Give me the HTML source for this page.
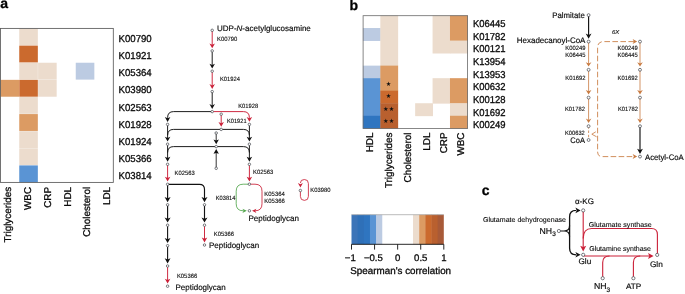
<!DOCTYPE html>
<html lang="en"><head><meta charset="utf-8"><title>Figure</title>
<style>html,body{margin:0;padding:0;background:#fff;overflow:hidden}svg{display:block}text{white-space:pre;stroke:#0a0a0a;stroke-width:.3px}text.s{stroke-width:.1px}text.m{stroke-width:.16px}</style></head>
<body>
<svg width="685" height="294" viewBox="0 0 685 294" font-family='"Liberation Sans", "DejaVu Sans", sans-serif' fill="#0a0a0a" text-rendering="geometricPrecision">
<rect width="685" height="294" fill="#fff"/>
<text x="0.20" y="7.50" font-size="14" font-weight="bold" fill="#000">a</text>
<text x="349.60" y="9.90" font-size="14" font-weight="bold" fill="#000">b</text>
<text x="481.70" y="195.10" font-size="14" font-weight="bold" fill="#000">c</text>
<rect x="0.42" y="79.85" width="18.59" height="16.87" fill="#dc9b63"/>
<rect x="19.25" y="28.52" width="18.59" height="16.87" fill="#ecdccd"/>
<rect x="19.25" y="45.63" width="18.59" height="16.87" fill="#cb6a2e"/>
<rect x="19.25" y="62.74" width="18.59" height="16.87" fill="#ecdccd"/>
<rect x="19.25" y="79.85" width="18.59" height="16.87" fill="#cb6a2e"/>
<rect x="19.25" y="96.96" width="18.59" height="16.87" fill="#ecdccd"/>
<rect x="19.25" y="114.08" width="18.59" height="16.87" fill="#dc9b63"/>
<rect x="19.25" y="131.19" width="18.59" height="16.87" fill="#ecdccd"/>
<rect x="19.25" y="148.30" width="18.59" height="16.87" fill="#ecdccd"/>
<rect x="19.25" y="165.41" width="18.59" height="16.87" fill="#5a94d4"/>
<rect x="38.09" y="62.74" width="18.59" height="16.87" fill="#ecdccd"/>
<rect x="38.09" y="79.85" width="18.59" height="16.87" fill="#ecdccd"/>
<rect x="75.75" y="62.74" width="18.59" height="16.87" fill="#bccbe2"/>
<rect x="0.55" y="28.4" width="112.75" height="154.00" fill="none" stroke="#5a5a5a" stroke-width="0.85"/>
<text transform="translate(118.50,41.80) scale(0.9629,1)" font-size="10">K00790</text>
<text transform="translate(118.50,59.00) scale(0.9629,1)" font-size="10">K01921</text>
<text transform="translate(118.50,76.20) scale(0.9629,1)" font-size="10">K05364</text>
<text transform="translate(118.50,93.40) scale(0.9629,1)" font-size="10">K03980</text>
<text transform="translate(118.50,110.60) scale(0.9629,1)" font-size="10">K02563</text>
<text transform="translate(118.50,127.80) scale(0.9629,1)" font-size="10">K01928</text>
<text transform="translate(118.50,145.00) scale(0.9629,1)" font-size="10">K01924</text>
<text transform="translate(118.50,162.20) scale(0.9629,1)" font-size="10">K05366</text>
<text transform="translate(118.50,179.40) scale(0.9629,1)" font-size="10">K03814</text>
<text transform="translate(11.20,186.90) rotate(-90)" font-size="9.9" text-anchor="end">Triglycerides</text>
<text transform="translate(30.70,186.90) rotate(-90)" font-size="9.9" text-anchor="end">WBC</text>
<text transform="translate(50.60,186.90) rotate(-90)" font-size="9.9" text-anchor="end">CRP</text>
<text transform="translate(70.50,186.90) rotate(-90)" font-size="9.9" text-anchor="end">HDL</text>
<text transform="translate(90.40,186.90) rotate(-90)" font-size="9.9" text-anchor="end">Cholesterol</text>
<text transform="translate(110.40,186.90) rotate(-90)" font-size="9.9" text-anchor="end">LDL</text>
<rect x="362.90" y="28.03" width="17.82" height="12.93" fill="#bccbe2"/>
<rect x="362.90" y="65.63" width="17.82" height="12.93" fill="#bccbe2"/>
<rect x="362.90" y="78.17" width="17.82" height="38.00" fill="#5a94d4"/>
<rect x="362.90" y="115.77" width="17.82" height="12.93" fill="#2f75c0"/>
<rect x="380.32" y="15.50" width="17.82" height="50.53" fill="#ecdccd"/>
<rect x="380.32" y="65.63" width="17.82" height="25.47" fill="#dc9b63"/>
<rect x="380.32" y="90.70" width="17.82" height="12.93" fill="#cb6a2e"/>
<rect x="380.32" y="103.23" width="17.82" height="25.47" fill="#b9602f"/>
<rect x="415.15" y="103.23" width="17.82" height="12.93" fill="#ecdccd"/>
<rect x="432.57" y="15.50" width="17.82" height="38.00" fill="#ecdccd"/>
<rect x="432.57" y="78.17" width="17.82" height="25.47" fill="#ecdccd"/>
<rect x="449.98" y="15.50" width="17.82" height="25.47" fill="#dc9b63"/>
<rect x="449.98" y="40.57" width="17.82" height="12.93" fill="#ecdccd"/>
<rect x="449.98" y="78.17" width="17.82" height="25.47" fill="#dc9b63"/>
<rect x="449.98" y="103.23" width="17.82" height="12.93" fill="#ecdccd"/>
<rect x="449.98" y="115.77" width="17.82" height="12.93" fill="#dc9b63"/>
<rect x="363.1" y="15.7" width="104.50" height="112.80" fill="none" stroke="#6a6a6a" stroke-width="0.8"/>
<text transform="translate(472.90,27.00) scale(0.9455,1)" font-size="10">K06445</text>
<text transform="translate(472.90,39.66) scale(0.9455,1)" font-size="10">K01782</text>
<text transform="translate(472.90,52.32) scale(0.9455,1)" font-size="10">K00121</text>
<text transform="translate(472.90,64.98) scale(0.9455,1)" font-size="10">K13954</text>
<text transform="translate(472.90,77.64) scale(0.9455,1)" font-size="10">K13953</text>
<text transform="translate(472.90,90.30) scale(0.9455,1)" font-size="10">K00632</text>
<text transform="translate(472.90,102.96) scale(0.9455,1)" font-size="10">K00128</text>
<text transform="translate(472.90,115.62) scale(0.9455,1)" font-size="10">K01692</text>
<text transform="translate(472.90,128.28) scale(0.9455,1)" font-size="10">K00249</text>
<text transform="translate(373.10,132.50) rotate(-90)" font-size="9.9" text-anchor="end">HDL</text>
<text transform="translate(391.50,132.50) rotate(-90)" font-size="9.9" text-anchor="end">Triglycerides</text>
<text transform="translate(411.00,132.50) rotate(-90)" font-size="9.9" text-anchor="end">Cholesterol</text>
<text transform="translate(430.20,132.50) rotate(-90)" font-size="9.9" text-anchor="end">LDL</text>
<text transform="translate(447.10,132.50) rotate(-90)" font-size="9.9" text-anchor="end">CRP</text>
<text transform="translate(463.80,132.50) rotate(-90)" font-size="9.9" text-anchor="end">WBC</text>
<text x="388.43" y="85.63" font-size="6.2" text-anchor="middle" style="stroke:none" font-family='"DejaVu Sans", sans-serif' fill="#111">★</text>
<text x="388.43" y="98.17" font-size="6.2" text-anchor="middle" style="stroke:none" font-family='"DejaVu Sans", sans-serif' fill="#111">★</text>
<text x="385.73" y="110.70" font-size="6.2" text-anchor="middle" style="stroke:none" font-family='"DejaVu Sans", sans-serif' fill="#111">★</text>
<text x="391.62" y="110.70" font-size="6.2" text-anchor="middle" style="stroke:none" font-family='"DejaVu Sans", sans-serif' fill="#111">★</text>
<text x="385.73" y="123.23" font-size="6.2" text-anchor="middle" style="stroke:none" font-family='"DejaVu Sans", sans-serif' fill="#111">★</text>
<text x="391.62" y="123.23" font-size="6.2" text-anchor="middle" style="stroke:none" font-family='"DejaVu Sans", sans-serif' fill="#111">★</text>
<rect x="351.50" y="214.7" width="6.55" height="29.60" fill="#3b74b8"/>
<rect x="357.65" y="214.7" width="6.55" height="29.60" fill="#2f70b8"/>
<rect x="363.81" y="214.7" width="6.55" height="29.60" fill="#2f75c0"/>
<rect x="369.96" y="214.7" width="6.55" height="29.60" fill="#5a94d4"/>
<rect x="376.11" y="214.7" width="6.15" height="29.60" fill="#bccbe2"/>
<rect x="413.03" y="214.7" width="6.55" height="29.60" fill="#ecdccd"/>
<rect x="419.19" y="214.7" width="6.55" height="29.60" fill="#dc9b63"/>
<rect x="425.34" y="214.7" width="6.55" height="29.60" fill="#cb6a2e"/>
<rect x="431.49" y="214.7" width="6.55" height="29.60" fill="#b9602f"/>
<rect x="437.65" y="214.7" width="6.15" height="29.60" fill="#a85a38"/>
<path d="M351.5,214.7H443.8" stroke="#aaa" stroke-width="0.8" fill="none"/>
<path d="M351.5,244.3H443.8M351.50,244.3V249.6M374.57,244.3V249.6M397.65,244.3V249.6M420.73,244.3V249.6M443.80,244.3V249.6" stroke="#111" stroke-width="0.9" fill="none"/>
<text x="350.30" y="261.40" font-size="9.6" text-anchor="middle">−1</text>
<text x="373.38" y="261.40" font-size="9.6" text-anchor="middle">−0.5</text>
<text x="397.65" y="261.40" font-size="9.6" text-anchor="middle">0</text>
<text x="420.73" y="261.40" font-size="9.6" text-anchor="middle">0.5</text>
<text x="443.80" y="261.40" font-size="9.6" text-anchor="middle">1</text>
<text transform="translate(350.30,274.10) scale(1.0033,1)" font-size="9.8">Spearman's correlation</text>
<text x="217.00" y="31.20" font-size="8" class="m">UDP-<tspan font-style="italic">N</tspan>-acetylglucosamine</text>
<path d="M212.20,30.30V45.80" fill="none" stroke="#cb2038" stroke-width="0.95"/>
<polygon points="212.20,48.30 209.45,43.40 212.20,44.70 214.95,43.40" fill="#cb2038"/>
<path d="M212.20,50.90V66.10" fill="none" stroke="#111111" stroke-width="0.95"/>
<polygon points="212.20,68.60 209.45,63.70 212.20,65.00 214.95,63.70" fill="#111111"/>
<path d="M212.20,71.20V86.50" fill="none" stroke="#cb2038" stroke-width="0.95"/>
<polygon points="212.20,89.00 209.45,84.10 212.20,85.40 214.95,84.10" fill="#cb2038"/>
<path d="M212.20,91.60V106.50" fill="none" stroke="#111111" stroke-width="0.95"/>
<polygon points="212.20,109.00 209.45,104.10 212.20,105.40 214.95,104.10" fill="#111111"/>
<text transform="translate(217.00,40.60) scale(0.9543,1)" font-size="6.2" class="s">K00790</text>
<text transform="translate(220.00,81.00) scale(0.9356,1)" font-size="6.2" class="s">K01924</text>
<text transform="translate(238.20,108.00) scale(0.9356,1)" font-size="6.2" class="s">K01928</text>
<text transform="translate(227.00,122.90) scale(0.9169,1)" font-size="6.2" class="s">K01921</text>
<path d="M212.2,111.6H173.6Q167.6,111.6 167.6,117.6V118.9" fill="none" stroke="#111111" stroke-width="0.95"/>
<polygon points="167.60,121.90 164.85,117.00 167.60,118.30 170.35,117.00" fill="#111111"/>
<path d="M212.2,111.6H243.4Q249.4,111.6 249.4,117.6V118.9" fill="none" stroke="#cb2038" stroke-width="0.95"/>
<polygon points="249.40,121.80 246.65,116.90 249.40,118.20 252.15,116.90" fill="#cb2038"/>
<path d="M221.20,114.20V124.30" fill="none" stroke="#cb2038" stroke-width="0.95"/>
<polygon points="221.20,126.80 218.45,121.90 221.20,123.20 223.95,121.90" fill="#cb2038"/>
<path d="M221.2,129.4H173.6Q167.6,129.4 167.6,135.4" fill="none" stroke="#111111" stroke-width="0.95"/>
<path d="M221.2,129.4H243.4Q249.4,129.4 249.4,135.4" fill="none" stroke="#111111" stroke-width="0.95"/>
<path d="M167.60,124.40V139.10" fill="none" stroke="#111111" stroke-width="0.95"/>
<polygon points="167.60,141.60 164.85,136.70 167.60,138.00 170.35,136.70" fill="#111111"/>
<path d="M249.40,124.40V139.10" fill="none" stroke="#111111" stroke-width="0.95"/>
<polygon points="249.40,141.60 246.65,136.70 249.40,138.00 252.15,136.70" fill="#111111"/>
<path d="M216.20,133.00V141.70" fill="none" stroke="#111111" stroke-width="0.85"/>
<polygon points="216.20,144.20 213.50,139.60 216.20,140.40 218.90,139.60" fill="#111111"/>
<path d="M216.2,146.6H173.6Q167.6,146.6 167.6,152.6" fill="none" stroke="#111111" stroke-width="0.95"/>
<path d="M216.2,146.6H243.4Q249.4,146.6 249.4,152.6" fill="none" stroke="#111111" stroke-width="0.95"/>
<path d="M167.60,144.20V159.20" fill="none" stroke="#111111" stroke-width="0.95"/>
<polygon points="167.60,161.70 164.85,156.80 167.60,158.10 170.35,156.80" fill="#111111"/>
<path d="M249.40,144.20V159.20" fill="none" stroke="#111111" stroke-width="0.95"/>
<polygon points="249.40,161.70 246.65,156.80 249.40,158.10 252.15,156.80" fill="#111111"/>
<path d="M216.20,168.30V151.60" fill="none" stroke="#111111" stroke-width="0.85"/>
<polygon points="216.20,149.10 218.90,153.70 216.20,152.90 213.50,153.70" fill="#111111"/>
<path d="M167.60,164.30V179.10" fill="none" stroke="#cb2038" stroke-width="0.95"/>
<polygon points="167.60,181.60 164.85,176.70 167.60,178.00 170.35,176.70" fill="#cb2038"/>
<path d="M249.40,164.30V179.10" fill="none" stroke="#cb2038" stroke-width="0.95"/>
<polygon points="249.40,181.60 246.65,176.70 249.40,178.00 252.15,176.70" fill="#cb2038"/>
<text transform="translate(174.60,175.30) scale(0.9450,1)" font-size="6.2" class="s">K02563</text>
<text transform="translate(253.00,173.50) scale(0.9543,1)" font-size="6.2" class="s">K02563</text>
<path d="M167.6,184.3H199.5Q204.5,184.3 204.5,189.3V199.3" fill="none" stroke="#111111" stroke-width="1.15"/>
<polygon points="204.50,202.20 201.50,197.00 204.50,198.30 207.50,197.00" fill="#111111"/>
<path d="M167.60,184.30V199.70" fill="none" stroke="#111111" stroke-width="1.15"/>
<polygon points="167.60,202.20 164.60,197.00 167.60,198.30 170.60,197.00" fill="#111111"/>
<path d="M167.60,204.80V220.10" fill="none" stroke="#111111" stroke-width="1.15"/>
<polygon points="167.60,222.60 164.60,217.40 167.60,218.70 170.60,217.40" fill="#111111"/>
<path d="M204.50,204.80V220.10" fill="none" stroke="#111111" stroke-width="1.15"/>
<polygon points="204.50,222.60 201.50,217.40 204.50,218.70 207.50,217.40" fill="#111111"/>
<path d="M167.60,225.20V240.60" fill="none" stroke="#111111" stroke-width="1.1"/>
<polygon points="167.60,243.10 164.70,237.90 167.60,239.20 170.50,237.90" fill="#111111"/>
<path d="M167.60,245.70V260.90" fill="none" stroke="#111111" stroke-width="1.1"/>
<polygon points="167.60,263.40 164.70,258.20 167.60,259.50 170.50,258.20" fill="#111111"/>
<path d="M167.60,266.00V281.10" fill="none" stroke="#cb2038" stroke-width="0.95"/>
<polygon points="167.60,283.60 164.85,278.70 167.60,280.00 170.35,278.70" fill="#cb2038"/>
<path d="M204.50,225.20V239.90" fill="none" stroke="#cb2038" stroke-width="0.95"/>
<polygon points="204.50,242.40 201.75,237.50 204.50,238.80 207.25,237.50" fill="#cb2038"/>
<text transform="translate(213.70,236.00) scale(0.9543,1)" font-size="6.2" class="s">K05366</text>
<text transform="translate(209.00,248.00) scale(0.9988,1)" font-size="8" class="m">Peptidoglycan</text>
<text transform="translate(176.90,278.40) scale(0.9543,1)" font-size="6.2" class="s">K05366</text>
<text transform="translate(175.50,289.60) scale(0.9988,1)" font-size="8" class="m">Peptidoglycan</text>
<path d="M249.4,184.2H243.2Q236.2,184.2 236.2,191.2V203.8Q236.2,210.8 243.2,210.8H243.9" fill="none" stroke="#52a64c" stroke-width="0.85"/>
<polygon points="246.80,210.80 242.40,212.90 243.70,210.80 242.40,208.70" fill="#52a64c"/>
<path d="M249.4,184.2H255.0Q262.0,184.2 262.0,191.2V203.8Q262.0,210.8 255.0,210.8H254.9" fill="none" stroke="#cb2038" stroke-width="0.85"/>
<polygon points="252.00,210.80 256.40,208.70 255.10,210.80 256.40,212.90" fill="#cb2038"/>
<text transform="translate(215.80,199.90) scale(0.9169,1)" font-size="6.2" class="s">K03814</text>
<text transform="translate(264.30,196.10) scale(0.9637,1)" font-size="6.2" class="s">K05364</text>
<text transform="translate(264.30,203.00) scale(0.9637,1)" font-size="6.2" class="s">K05366</text>
<text transform="translate(248.40,220.90) scale(1.0068,1)" font-size="8" class="m">Peptidoglycan</text>
<path d="M300.4,190.5V196.4Q300.4,200.4 304.4,200.4Q308.4,200.4 308.4,196.4V183.5Q308.4,179.5 304.4,179.5Q300.4,179.5 300.4,183.0" fill="none" stroke="#cb2038" stroke-width="0.85"/>
<polygon points="300.40,187.60 297.90,183.00 300.40,184.30 302.90,183.00" fill="#cb2038"/>
<text transform="translate(310.30,192.30) scale(0.9450,1)" font-size="6.2" class="s">K03980</text>
<circle cx="212.20" cy="30.30" r="1.25" fill="#fff" stroke="#41434a" stroke-width="0.7"/>
<circle cx="212.20" cy="50.90" r="1.25" fill="#fff" stroke="#41434a" stroke-width="0.7"/>
<circle cx="212.20" cy="71.20" r="1.25" fill="#fff" stroke="#41434a" stroke-width="0.7"/>
<circle cx="212.20" cy="91.60" r="1.25" fill="#fff" stroke="#41434a" stroke-width="0.7"/>
<circle cx="212.20" cy="111.60" r="1.25" fill="#fff" stroke="#41434a" stroke-width="0.7"/>
<circle cx="167.60" cy="124.40" r="1.25" fill="#fff" stroke="#41434a" stroke-width="0.7"/>
<circle cx="249.40" cy="124.40" r="1.25" fill="#fff" stroke="#41434a" stroke-width="0.7"/>
<circle cx="221.20" cy="114.20" r="1.25" fill="#fff" stroke="#41434a" stroke-width="0.7"/>
<circle cx="221.20" cy="129.40" r="1.25" fill="#fff" stroke="#41434a" stroke-width="0.7"/>
<circle cx="167.60" cy="144.20" r="1.25" fill="#fff" stroke="#41434a" stroke-width="0.7"/>
<circle cx="249.40" cy="144.20" r="1.25" fill="#fff" stroke="#41434a" stroke-width="0.7"/>
<circle cx="216.20" cy="133.00" r="1.25" fill="#fff" stroke="#41434a" stroke-width="0.7"/>
<circle cx="216.20" cy="146.60" r="1.25" fill="#fff" stroke="#41434a" stroke-width="0.7"/>
<circle cx="167.60" cy="164.30" r="1.25" fill="#fff" stroke="#41434a" stroke-width="0.7"/>
<circle cx="249.40" cy="164.30" r="1.25" fill="#fff" stroke="#41434a" stroke-width="0.7"/>
<circle cx="216.20" cy="168.30" r="1.25" fill="#fff" stroke="#41434a" stroke-width="0.7"/>
<circle cx="167.60" cy="184.30" r="1.25" fill="#fff" stroke="#41434a" stroke-width="0.7"/>
<circle cx="249.40" cy="184.20" r="1.25" fill="#fff" stroke="#41434a" stroke-width="0.7"/>
<circle cx="167.60" cy="204.80" r="1.25" fill="#fff" stroke="#41434a" stroke-width="0.7"/>
<circle cx="204.50" cy="204.80" r="1.25" fill="#fff" stroke="#41434a" stroke-width="0.7"/>
<circle cx="167.60" cy="225.20" r="1.25" fill="#fff" stroke="#41434a" stroke-width="0.7"/>
<circle cx="204.50" cy="225.20" r="1.25" fill="#fff" stroke="#41434a" stroke-width="0.7"/>
<circle cx="167.60" cy="245.70" r="1.25" fill="#fff" stroke="#41434a" stroke-width="0.7"/>
<circle cx="167.60" cy="266.00" r="1.25" fill="#fff" stroke="#41434a" stroke-width="0.7"/>
<circle cx="167.60" cy="286.20" r="1.25" fill="#fff" stroke="#41434a" stroke-width="0.7"/>
<circle cx="204.50" cy="245.00" r="1.25" fill="#fff" stroke="#41434a" stroke-width="0.7"/>
<circle cx="249.40" cy="210.80" r="1.25" fill="#fff" stroke="#41434a" stroke-width="0.7"/>
<circle cx="300.40" cy="190.50" r="1.25" fill="#fff" stroke="#41434a" stroke-width="0.7"/>
<text transform="translate(552.20,18.10) scale(0.9776,1)" font-size="8" class="m">Palmitate</text>
<text transform="translate(516.80,43.30) scale(0.9953,1)" font-size="8" class="m">Hexadecanoyl-CoA</text>
<path d="M588.60,15.10V36.30" fill="none" stroke="#111111" stroke-width="1.15"/>
<polygon points="588.60,38.80 585.70,33.60 588.60,34.90 591.50,33.60" fill="#111111"/>
<path d="M588.60,41.60V64.10" fill="none" stroke="#c87a40" stroke-width="0.8"/>
<polygon points="588.60,66.60 585.80,62.20 588.60,63.50 591.40,62.20" fill="#c87a40"/>
<path d="M640.00,41.60V64.10" fill="none" stroke="#c87a40" stroke-width="0.8"/>
<polygon points="640.00,66.60 637.20,62.20 640.00,63.50 642.80,62.20" fill="#c87a40"/>
<path d="M588.60,69.80V91.90" fill="none" stroke="#c87a40" stroke-width="0.8"/>
<polygon points="588.60,94.40 585.80,90.00 588.60,91.30 591.40,90.00" fill="#c87a40"/>
<path d="M640.00,69.80V91.90" fill="none" stroke="#c87a40" stroke-width="0.8"/>
<polygon points="640.00,94.40 637.20,90.00 640.00,91.30 642.80,90.00" fill="#c87a40"/>
<path d="M588.60,97.60V120.50" fill="none" stroke="#c87a40" stroke-width="0.8"/>
<polygon points="588.60,123.00 585.80,118.60 588.60,119.90 591.40,118.60" fill="#c87a40"/>
<path d="M640.00,97.60V120.50" fill="none" stroke="#c87a40" stroke-width="0.8"/>
<polygon points="640.00,123.00 637.20,118.60 640.00,119.90 642.80,118.60" fill="#c87a40"/>
<path d="M640.00,126.20V151.50" fill="none" stroke="#111111" stroke-width="1.15"/>
<polygon points="640.00,154.00 637.10,148.80 640.00,150.10 642.90,148.80" fill="#111111"/>
<path d="M634.0,41.6H603.6Q597.6,41.6 597.6,47.6V152.0Q597.6,156.6 602.2,156.6H633.5" fill="none" stroke="#c87a40" stroke-width="0.85" stroke-dasharray="5.6 2.4"/>
<polygon points="637.20,41.60 632.60,44.10 633.90,41.60 632.60,39.10" fill="#c87a40"/>
<polygon points="637.20,156.60 632.60,159.10 633.90,156.60 632.60,154.10" fill="#c87a40"/>
<path d="M588.6,126.2V140.0" fill="none" stroke="#c87a40" stroke-width="0.8" stroke-dasharray="2.5 1.8"/>
<path d="M595.8,131.8L591.8,134.2L596.6,136.8" fill="none" stroke="#c87a40" stroke-width="0.8"/>
<text transform="translate(612.00,34.30) scale(1.0431,1)" font-size="5.8" font-style="italic" class="s">6X</text>
<text transform="translate(565.30,49.80) scale(0.9450,1)" font-size="6.2" class="s">K00249</text>
<text transform="translate(565.30,56.90) scale(0.9450,1)" font-size="6.2" class="s">K06445</text>
<text transform="translate(617.60,49.80) scale(0.9450,1)" font-size="6.2" class="s">K00249</text>
<text transform="translate(617.60,56.90) scale(0.9450,1)" font-size="6.2" class="s">K06445</text>
<text transform="translate(565.30,80.00) scale(0.9450,1)" font-size="6.2" class="s">K01692</text>
<text transform="translate(617.60,80.00) scale(0.9450,1)" font-size="6.2" class="s">K01692</text>
<text transform="translate(565.00,110.60) scale(0.9356,1)" font-size="6.2" class="s">K01782</text>
<text transform="translate(618.00,110.60) scale(0.9356,1)" font-size="6.2" class="s">K01782</text>
<text transform="translate(565.00,134.60) scale(0.9263,1)" font-size="6.2" class="s">K00632</text>
<text transform="translate(570.30,143.10) scale(0.9381,1)" font-size="8" class="m">CoA</text>
<text transform="translate(645.00,159.80) scale(0.9672,1)" font-size="8" class="m">Acetyl-CoA</text>
<circle cx="588.60" cy="15.10" r="1.45" fill="#fff" stroke="#41434a" stroke-width="0.7"/>
<circle cx="588.60" cy="41.60" r="1.45" fill="#fff" stroke="#41434a" stroke-width="0.7"/>
<circle cx="588.60" cy="69.80" r="1.45" fill="#fff" stroke="#41434a" stroke-width="0.7"/>
<circle cx="588.60" cy="97.60" r="1.45" fill="#fff" stroke="#41434a" stroke-width="0.7"/>
<circle cx="588.60" cy="126.20" r="1.45" fill="#fff" stroke="#41434a" stroke-width="0.7"/>
<circle cx="588.60" cy="140.00" r="1.45" fill="#fff" stroke="#41434a" stroke-width="0.7"/>
<circle cx="640.00" cy="41.60" r="1.45" fill="#fff" stroke="#41434a" stroke-width="0.7"/>
<circle cx="640.00" cy="69.80" r="1.45" fill="#fff" stroke="#41434a" stroke-width="0.7"/>
<circle cx="640.00" cy="97.60" r="1.45" fill="#fff" stroke="#41434a" stroke-width="0.7"/>
<circle cx="640.00" cy="126.20" r="1.45" fill="#fff" stroke="#41434a" stroke-width="0.7"/>
<circle cx="640.00" cy="156.60" r="1.45" fill="#fff" stroke="#41434a" stroke-width="0.7"/>
<text transform="translate(482.90,222.20) scale(1.0073,1)" font-size="7" class="s">Glutamate dehydrogenase</text>
<text x="539.60" y="233.90" font-size="8.7" class="m">NH<tspan font-size="6.4" dy="2.2">3</tspan></text>
<path d="M558.9,231.0H564.0Q569.6,231.0 569.6,236.5M564.0,231.0Q569.6,231.0 569.6,225.5" fill="none" stroke="#111111" stroke-width="1.2"/>
<path d="M576.0,210.4H576.1Q569.6,210.4 569.6,216.9V248.3Q569.6,254.8 576.1,254.8H576.0" fill="none" stroke="#111111" stroke-width="1.3"/>
<polygon points="580.60,210.40 575.40,213.20 576.70,210.40 575.40,207.60" fill="#111111"/>
<polygon points="580.60,254.80 575.40,257.60 576.70,254.80 575.40,252.00" fill="#111111"/>
<text transform="translate(574.90,204.20) scale(1.0081,1)" font-size="8" class="m">α-KG</text>
<path d="M583.2,210.4V247.5" fill="none" stroke="#cb2038" stroke-width="1.1"/>
<polygon points="583.20,251.40 580.20,245.80 583.20,247.10 586.20,245.80" fill="#cb2038"/>
<path d="M583.2,238.5Q583.2,228.5 591.7,228.5H651.5Q657.4,228.5 657.4,234.5V254.8" fill="none" stroke="#cb2038" stroke-width="1.1"/>
<text transform="translate(588.80,226.60) scale(1.0088,1)" font-size="7" class="s">Glutamate synthase</text>
<text transform="translate(589.20,250.80) scale(0.9989,1)" font-size="7" class="s">Glutamine synthase</text>
<path d="M583.2,256.0H649.5" fill="none" stroke="#cb2038" stroke-width="1.1"/>
<polygon points="653.60,256.00 648.00,259.00 649.30,256.00 648.00,253.00" fill="#cb2038"/>
<path d="M602.7,278.2V262.5Q602.7,256.0 609.5,256.0" fill="none" stroke="#cb2038" stroke-width="1.1"/>
<path d="M633.4,278.2V262.5Q633.4,256.0 640.2,256.0" fill="none" stroke="#cb2038" stroke-width="1.1"/>
<text transform="translate(578.40,264.20) scale(1.0282,1)" font-size="8" class="m">Glu</text>
<text transform="translate(649.90,266.80) scale(1.0362,1)" font-size="8" class="m">Gln</text>
<text x="593.90" y="289.30" font-size="8.7" class="m">NH<tspan font-size="6.4" dy="2.2">3</tspan></text>
<text transform="translate(626.00,289.30) scale(1.0224,1)" font-size="8" class="m">ATP</text>
<circle cx="558.90" cy="231.00" r="1.6" fill="#fff" stroke="#41434a" stroke-width="0.7"/>
<circle cx="583.20" cy="210.40" r="1.6" fill="#fff" stroke="#41434a" stroke-width="0.7"/>
<circle cx="583.20" cy="254.80" r="1.6" fill="#fff" stroke="#41434a" stroke-width="0.7"/>
<circle cx="657.20" cy="254.90" r="1.6" fill="#fff" stroke="#41434a" stroke-width="0.7"/>
<circle cx="602.70" cy="278.20" r="1.6" fill="#fff" stroke="#41434a" stroke-width="0.7"/>
<circle cx="633.40" cy="278.20" r="1.6" fill="#fff" stroke="#41434a" stroke-width="0.7"/>
</svg>
</body></html>
